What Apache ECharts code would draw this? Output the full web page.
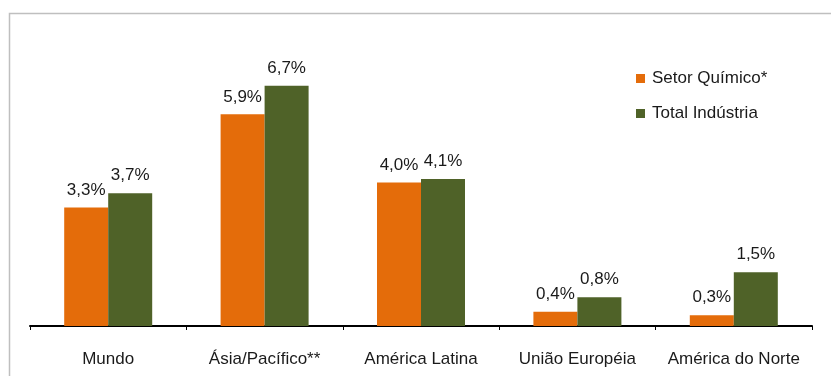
<!DOCTYPE html>
<html>
<head>
<meta charset="utf-8">
<script src="https://cdn.jsdelivr.net/npm/echarts@6/dist/echarts.min.js"></script>
<style>html,body{margin:0;padding:0;background:#fff}#c{width:831px;height:376px}</style>
</head>
<body>
<div id="c"></div>
<script>
const categories = ['Mundo', 'Ásia/Pacífico**', 'América Latina', 'União Européia', 'América do Norte'];
const seriesNames = ['Setor Químico*', 'Total Indústria'];
const setorQuimico = [3.3, 5.9, 4.0, 0.4, 0.3];
const totalIndustria = [3.7, 6.7, 4.1, 0.8, 1.5];
const colors = ['#E46C0A', '#4F6228'];

const chart = echarts.init(document.getElementById('c'), null, {renderer: 'canvas'});
const fmt = p => p.value.toFixed(1).replace('.', ',') + '%';
const FF = 'Liberation Sans, Arial, sans-serif';
const labelCfg = {show: true, position: 'top', distance: 9, formatter: fmt,
  color: '#1a1a1a', fontSize: 17, fontFamily: FF};
chart.setOption({
  animation: false,
  backgroundColor: '#fff',
  graphic: [{type: 'rect', shape: {x: 9.5, y: 13.5, width: 900, height: 500},
    style: {fill: 'none', stroke: '#BFBFBF', lineWidth: 1.5}, silent: true}],
  grid: {left: 30, right: 19, top: 39, bottom: 50},
  legend: {
    orient: 'vertical', left: 631, top: 65, itemWidth: 9, itemHeight: 9, itemGap: 18,
    icon: 'rect',
    textStyle: {fontSize: 17, color: '#1a1a1a', fontFamily: FF, padding: [0, 0, 0, 2]},
    data: seriesNames
  },
  xAxis: {
    type: 'category', data: categories,
    axisLine: {lineStyle: {color: '#000', width: 2}},
    axisTick: {show: true, length: 4, lineStyle: {color: '#000', width: 1}},
    axisLabel: {color: '#1a1a1a', fontSize: 17, margin: 25, fontFamily: FF, interval: 0}
  },
  yAxis: {type: 'value', min: 0, max: 8, show: false, splitLine: {show: false}},
  series: [
    {name: seriesNames[0], type: 'bar', data: setorQuimico, itemStyle: {color: colors[0]},
      barWidth: 44, barGap: '0%', label: labelCfg},
    {name: seriesNames[1], type: 'bar', data: totalIndustria, itemStyle: {color: colors[1]},
      barWidth: 44, barGap: '0%', label: labelCfg}
  ]
});
</script>
</body>
</html>
